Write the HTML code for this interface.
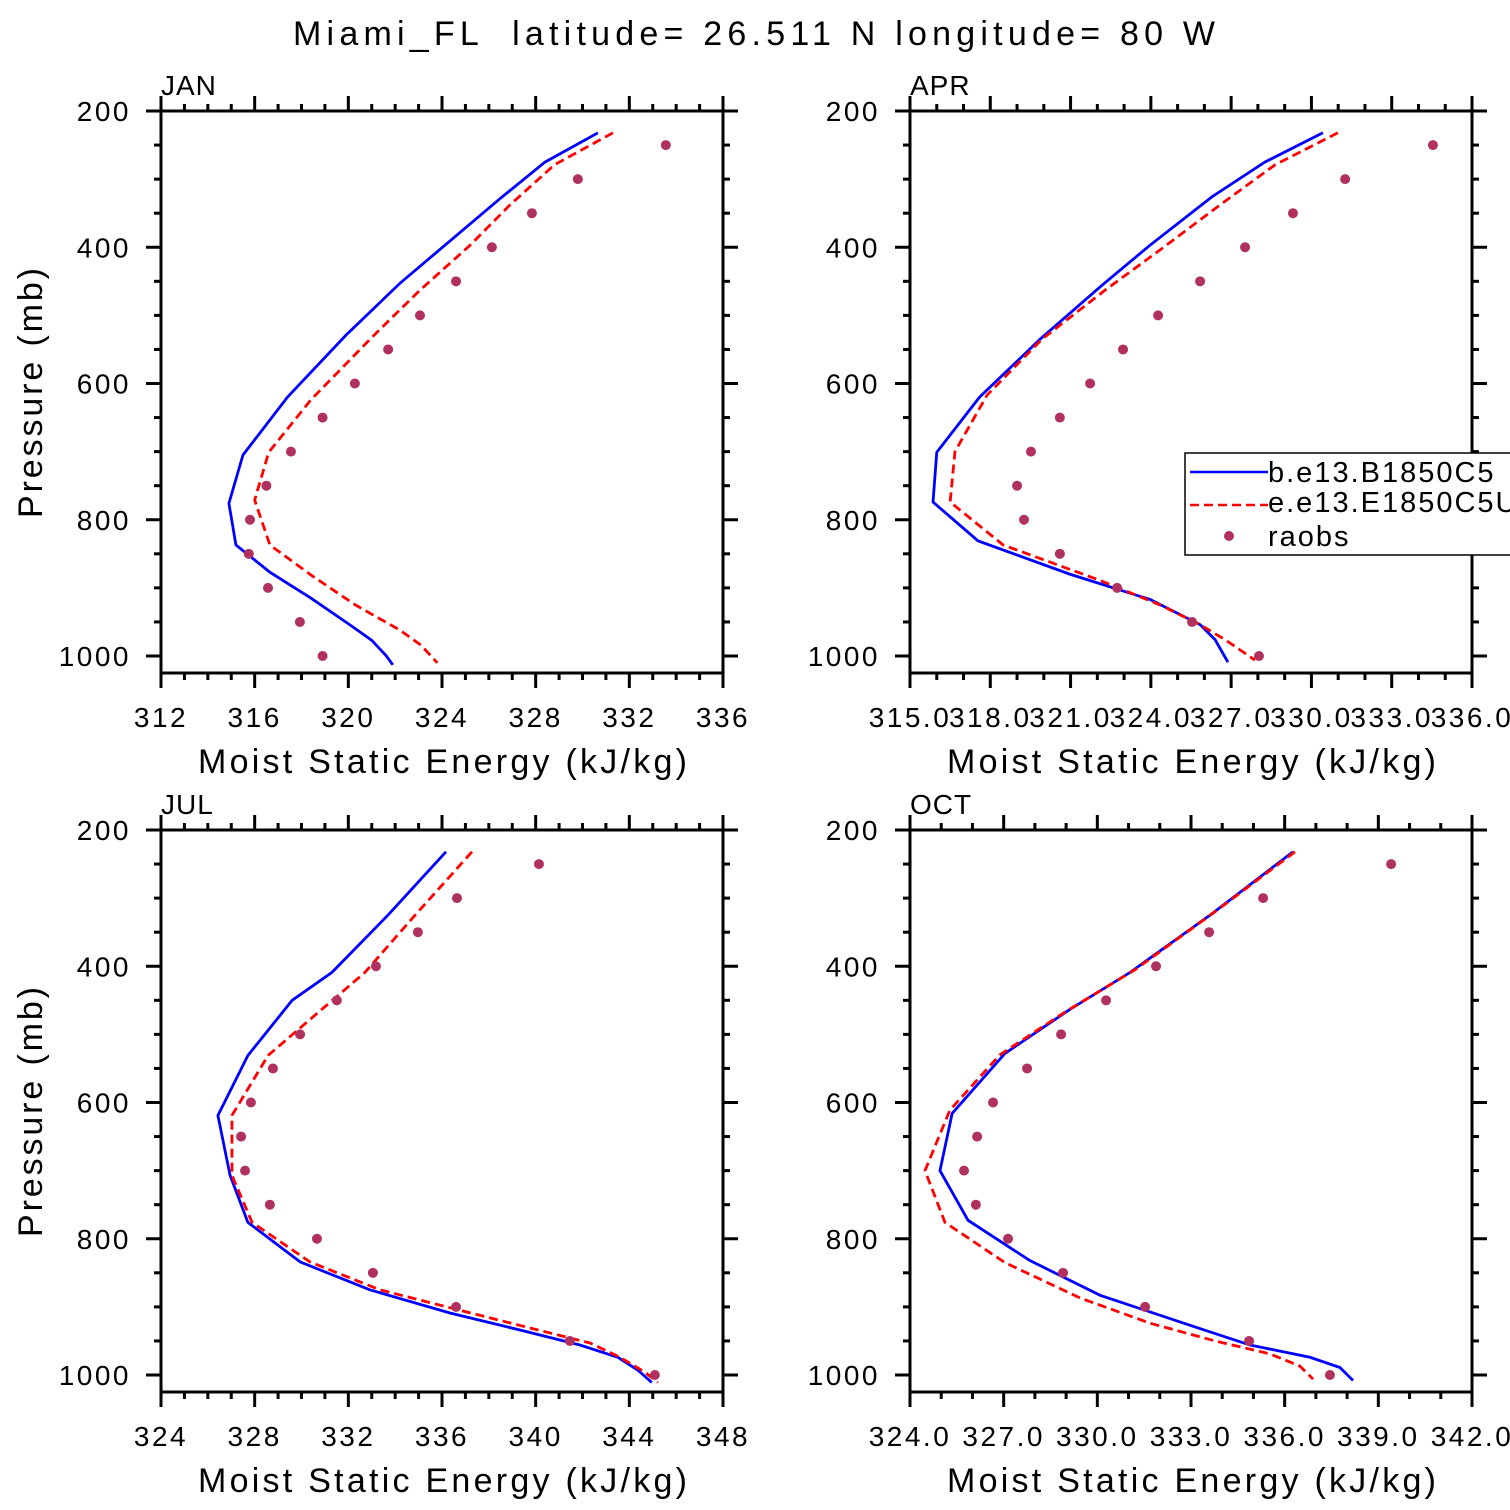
<!DOCTYPE html>
<html><head><meta charset="utf-8"><style>
html,body{margin:0;padding:0;background:#fff;}
svg{display:block;font-family:"Liberation Sans","DejaVu Sans",sans-serif;}
</style></head><body>
<svg id="chart" width="1510" height="1510" viewBox="0 0 1510 1510" xmlns="http://www.w3.org/2000/svg">
<text x="293" y="45" font-size="34" textLength="922" lengthAdjust="spacing" xml:space="preserve" style="white-space:pre">Miami_FL  latitude= 26.511 N longitude= 80 W</text>
</svg>
<script>
const tickLevels=[200,400,600,800,1000];
const obsLevels=[250,300,350,400,450,500,550,600,650,700,750,800,850,900,950,1000];
const janBlueX=[330.66,328.4,326.5,322.2,319.9,317.4,315.5,314.9,315.2,316.65,318.4,320.1,321.0,321.6,321.9];
const janBlueP=[232,275,328,453,529,620,705,776,837,877,915,955,977,999,1013];
const janRedX=[331.3,328.8,326.9,325.2,323.06,321.1,318.4,316.6,316.0,316.65,318.4,320.3,322.2,323.1,323.8];
const janRedP=[232,279,338,397,463,529,624,701,771,837,881,925,962,984,1010];
const janObs=[333.56,329.8,327.84,326.13,324.6,323.06,321.7,320.28,318.9,317.55,316.5,315.8,315.75,316.57,317.93,318.9];
const aprBlueX=[330.43,328.26,326.28,323.97,322.2,319.86,317.6,316.0,315.86,317.54,320.98,323.97,325.84,326.4,326.88];
const aprBlueP=[232,275,326,397,455,535,620,701,774,831,880,917,954,976,1009];
const aprRedX=[330.99,328.64,326.58,324.34,322.29,319.93,317.88,316.68,316.5,318.48,322.1,324.34,325.84,326.77,327.89];
const aprRedP=[232,279,338,404,463,535,617,700,774,837,889,925,954,976,1006];
const aprObs=[334.54,331.26,329.31,327.52,325.84,324.27,322.96,321.73,320.6,319.52,319.0,319.26,320.6,322.74,325.54,328.04];
const julBlueX=[336.17,333.69,331.3,329.6,327.71,326.43,326.95,327.71,329.94,332.92,336.34,339.33,341.89,343.51,344.37,344.96];
const julBlueP=[232,325,409,450,531,619,707,776,834,875,909,934,956,974,993,1011];
const julRedX=[337.28,334.85,332.71,328.57,327.03,327.03,327.89,330.36,333.35,336.77,339.76,342.32,343.6,344.67,345.22];
const julRedP=[232,325,409,531,619,707,776,834,875,905,931,953,974,996,1011];
const julObs=[340.14,336.64,334.97,333.18,331.51,329.94,328.78,327.84,327.42,327.59,328.65,330.66,333.05,336.6,341.46,345.09];
const octBlueX=[336.27,333.61,331.05,329.1,327.04,325.35,324.96,325.86,327.84,330.09,332.97,334.89,336.81,337.77,338.19];
const octBlueP=[232,325,409,464,528,616,700,773,832,883,927,956,974,989,1008];
const octRedX=[336.33,333.77,331.21,328.97,326.88,325.28,324.48,325.12,327.04,329.45,331.69,333.77,335.53,336.49,336.91];
const octRedP=[232,320,405,467,530,611,700,776,835,887,924,950,969,987,1006];
const octObs=[339.41,335.31,333.58,331.88,330.28,328.84,327.75,326.66,326.15,325.73,326.11,327.14,328.9,331.53,334.86,337.45];
const xTicksJan=[312,316,320,324,328,332,336];
const xTicksApr=[315,318,321,324,327,330,333,336];
const xTicksJul=[324,328,332,336,340,344,348];
const xTicksOct=[324,327,330,333,336,339,342];

const NS="http://www.w3.org/2000/svg";
const svg=document.getElementById('chart');
function mk(tag,attrs,parent){const e=document.createElementNS(NS,tag);for(const k in attrs)e.setAttribute(k,attrs[k]);(parent||svg).appendChild(e);return e;}

function panel(cfg){
  const L=cfg.left,T=cfg.top,W=562,H=562;
  const xmin=cfg.xt[0],xmax=cfg.xt[cfg.xt.length-1];
  const pTop=200;
  const sx=v=>L+(v-xmin)/(xmax-xmin)*W;
  const sy=p=>T+(p-pTop)*0.68125;
  const g=mk('g',{});
  
  
  const t=mk('text',{x:L,y:T-16,'font-size':28,'letter-spacing':'1'},g);
  
  
  t.textContent=cfg.label;
  const step=cfg.minor;
  for(let v=xmin;v<=xmax+1e-6;v+=step){
    const major=cfg.xt.some(m=>Math.abs(m-v)<1e-6);
    const len=major?15:7;const x=sx(v);
    const a=mk('line',{x1:x,x2:x,y1:T+H,y2:T+H+len,stroke:'#000','stroke-width':3},g);
    
    const b=mk('line',{x1:x,x2:x,y1:T,y2:T-len,stroke:'#000','stroke-width':3},g);
    
  }
  cfg.xt.forEach(v=>{
    const s=cfg.fmt?v.toFixed(1):String(v);
    const tx=mk('text',{x:sx(v),y:T+H+54,'text-anchor':'middle','font-size':28,'letter-spacing':'2.5'},g);
    
    tx.textContent=s;
  });
  for(let p=200;p<=1000;p+=50){
    const major=tickLevels.includes(p);const len=major?15:7;const y=sy(p);
    const a=mk('line',{x1:L,x2:L-len,y1:y,y2:y,stroke:'#000','stroke-width':3},g);
    
    const b=mk('line',{x1:L+W,x2:L+W+len,y1:y,y2:y,stroke:'#000','stroke-width':3},g);
    
  }
  tickLevels.forEach(p=>{
    const ty=mk('text',{x:L-30,y:sy(p)+10,'text-anchor':'end','font-size':28,'letter-spacing':'2.5'},g);
    
    ty.textContent=String(p);
  });
  const fr=mk('rect',{x:L,y:T,width:W,height:H,fill:'none',stroke:'#000','stroke-width':3},g);
  
  const xl=mk('text',{x:L+37,y:T+H+100,'font-size':34,textLength:489,lengthAdjust:'spacing'},g);
  
  xl.textContent='Moist Static Energy (kJ/kg)';
  if(cfg.ylab){
    const yl=mk('text',{x:-125,y:0,'font-size':34,textLength:250,lengthAdjust:'spacing',transform:`translate(42,${T+282}) rotate(-90)`},g);
    
    yl.textContent='Pressure (mb)';
  }
  const bl=mk('polyline',{points:cfg.bx.map((v,i)=>sx(v)+','+sy(cfg.bp[i])).join(' '),fill:'none',stroke:'#0000ff','stroke-width':2.8},g);
  
  const rl=mk('polyline',{points:cfg.rx.map((v,i)=>sx(v)+','+sy(cfg.rp[i])).join(' '),fill:'none',stroke:'#ff0000','stroke-width':2.8,'stroke-dasharray':'9,5'},g);
  
  cfg.obs.forEach((v,i)=>{
    const c=mk('circle',{cx:sx(v),cy:sy(obsLevels[i]),r:5,fill:'#b03060'},g);
    
  });
}
panel({name:'jan',label:'JAN',left:161,top:111,xt:xTicksJan,minor:1,bx:janBlueX,bp:janBlueP,rx:janRedX,rp:janRedP,obs:janObs,ylab:true});
panel({name:'apr',label:'APR',left:910,top:111,xt:xTicksApr,minor:1,fmt:true,bx:aprBlueX,bp:aprBlueP,rx:aprRedX,rp:aprRedP,obs:aprObs});
panel({name:'jul',label:'JUL',left:161,top:830,xt:xTicksJul,minor:1,bx:julBlueX,bp:julBlueP,rx:julRedX,rp:julRedP,obs:julObs,ylab:true});
panel({name:'oct',label:'OCT',left:910,top:830,xt:xTicksOct,minor:1,fmt:true,bx:octBlueX,bp:octBlueP,rx:octRedX,rp:octRedP,obs:octObs});
const lg=mk('g',{});


const lr=mk('rect',{x:1185,y:453,width:340,height:102,fill:'#fff',stroke:'#000','stroke-width':1.5},lg);

const l1=mk('line',{x1:1190,x2:1268,y1:472,y2:472,stroke:'#0000ff','stroke-width':2.5},lg);

const l2=mk('line',{x1:1190,x2:1268,y1:505,y2:505,stroke:'#ff0000','stroke-width':2.5,'stroke-dasharray':'9,5'},lg);

const l3=mk('circle',{cx:1229,cy:536,r:5,fill:'#b03060'},lg);

[['b.e13.B1850C5',482],['e.e13.E1850C5U',512],['raobs',546]].forEach(([s,y])=>{
  const t=mk('text',{x:1268,y:y,'font-size':29,'letter-spacing':'2'},lg);
  
  t.textContent=s;
});
</script>
</body></html>
